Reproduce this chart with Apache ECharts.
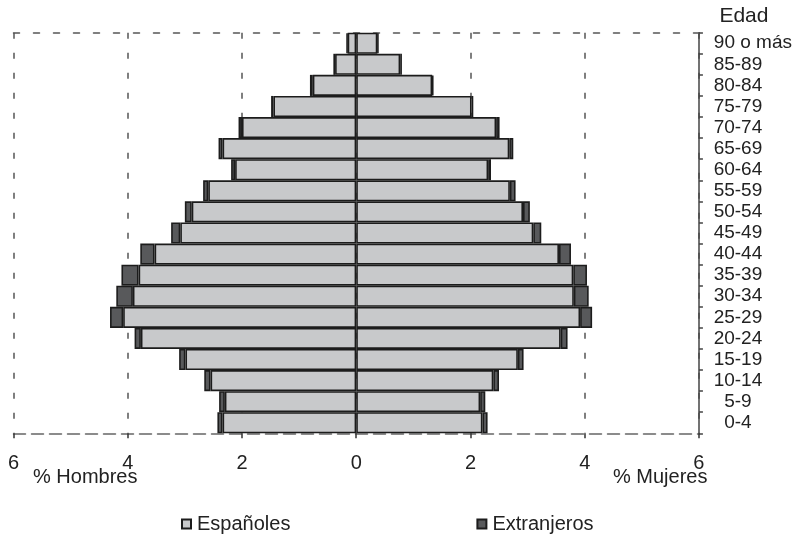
<!DOCTYPE html>
<html>
<head>
<meta charset="utf-8">
<script src="https://cdn.jsdelivr.net/npm/echarts@6/dist/echarts.min.js"></script>
<style>
  html, body { margin: 0; padding: 0; background: #fff; }
  #chart { width: 795px; height: 536px; }
</style>
</head>
<body>
<div id="chart"></div>
<script>
// Age groups, bottom to top
const ages = ['0-4', '5-9', '10-14', '15-19', '20-24', '25-29', '30-34', '35-39', '40-44',
  '45-49', '50-54', '55-59', '60-64', '65-69', '70-74', '75-79', '80-84', '85-89', '90 o más'];

// Men (% of population), Spanish nationals and foreigners
const hombresEspanoles = [2.34, 2.30, 2.55, 2.99, 3.77, 4.08, 3.91, 3.81, 3.53, 3.08,
  2.88, 2.59, 2.12, 2.34, 2.00, 1.45, 0.76, 0.37, 0.15];
const hombresExtranjeros = [0.09, 0.10, 0.11, 0.11, 0.11, 0.23, 0.29, 0.30, 0.25, 0.16,
  0.12, 0.09, 0.07, 0.07, 0.06, 0.04, 0.05, 0.03, 0.02];

// Women (% of population), Spanish nationals and foreigners
const mujeresEspanolas = [2.21, 2.17, 2.40, 2.83, 3.58, 3.92, 3.81, 3.80, 3.55, 3.10,
  2.92, 2.69, 2.31, 2.68, 2.45, 2.02, 1.33, 0.77, 0.37];
const mujeresExtranjeras = [0.09, 0.09, 0.10, 0.10, 0.12, 0.21, 0.26, 0.24, 0.21, 0.14,
  0.12, 0.10, 0.05, 0.07, 0.06, 0.03, 0.02, 0.03, 0.02];

// Tick values on the horizontal axis
const xTicks = { min: -6, max: 6, step: 2 };

const FONT = '"Liberation Sans", Arial, sans-serif';
const TEXT = '#222';
const LIGHT = '#c8c9cb';
const DARK = '#58595b';
const EDGE = '#1c1c1c';

const neg = arr => arr.map(v => -v);

function barSeries(name, data, color) {
  return {
    name: name,
    type: 'bar',
    stack: 'piramide',
    data: data,
    barCategoryGap: 0,
    itemStyle: { color: color, borderColor: EDGE, borderWidth: 1.6 },
    emphasis: { disabled: true },
    animation: false
  };
}

const chart = echarts.init(document.getElementById('chart'), null, { renderer: 'canvas' });

chart.setOption({
  animation: false,
  backgroundColor: '#fff',
  textStyle: { fontFamily: FONT, color: TEXT },
  grid: { left: 13.5, right: 95.5, top: 32.7, bottom: 102.7, containLabel: false },
  legend: {
    data: ['Españoles', 'Extranjeros'],
    left: 176,
    top: 509,
    icon: 'rect',
    itemWidth: 9,
    itemHeight: 9,
    itemGap: 186,
    textStyle: { fontFamily: FONT, fontSize: 20, color: TEXT, padding: [0, 0, 0, 1] },
    selectedMode: false
  },
  xAxis: [
    {
      type: 'value',
      position: 'bottom',
      min: xTicks.min,
      max: xTicks.max,
      interval: xTicks.step,
      axisLine: { show: true, onZero: false, lineStyle: { color: '#666', width: 1.5, type: [12, 6] } },
      axisTick: { show: true, length: 5, lineStyle: { color: '#333', width: 1.5 } },
      axisLabel: {
        fontFamily: FONT, fontSize: 20, color: TEXT, margin: 20,
        formatter: v => String(Math.abs(v))
      },
      splitLine: { show: true, lineStyle: { color: '#555', width: 1.5, type: [6, 14] } }
    },
    {
      type: 'value',
      position: 'top',
      min: xTicks.min,
      max: xTicks.max,
      interval: xTicks.step,
      axisLine: { show: true, onZero: false, lineStyle: { color: '#555', width: 1.5, type: [6, 14] } },
      axisTick: { show: false },
      axisLabel: { show: false },
      splitLine: { show: false }
    }
  ],
  yAxis: {
    type: 'category',
    position: 'right',
    data: ages,
    name: 'Edad',
    nameLocation: 'end',
    nameGap: 6,
    nameTextStyle: { fontFamily: FONT, fontSize: 21, color: TEXT, align: 'center', padding: [0, 0, 0, 90] },
    axisLine: { show: true, onZero: false, lineStyle: { color: '#444', width: 1.5 } },
    axisTick: { show: true, length: 4, inside: false, interval: 0, lineStyle: { color: '#444', width: 1.5 } },
    axisLabel: {
      interval: 0,
      fontFamily: FONT, fontSize: 19, color: TEXT, margin: 39, align: 'center',
      formatter: v => v === '90 o más' ? '{w|' + v + '}' : v,
      rich: { w: { fontFamily: FONT, fontSize: 19, color: TEXT, padding: [0, 0, 0, 30] } }
    },
    splitLine: { show: false }
  },
  graphic: [
    {
      type: 'text', left: 33, top: 467,
      style: { text: '% Hombres', font: '20px ' + FONT, fill: TEXT }
    },
    {
      type: 'text', left: 613, top: 467,
      style: { text: '% Mujeres', font: '20px ' + FONT, fill: TEXT }
    }
  ],
  series: [
    barSeries('Españoles', neg(hombresEspanoles), LIGHT),
    barSeries('Españoles', mujeresEspanolas, LIGHT),
    barSeries('Extranjeros', neg(hombresExtranjeros), DARK),
    barSeries('Extranjeros', mujeresExtranjeras, DARK)
  ]
});
</script>
</body>
</html>
